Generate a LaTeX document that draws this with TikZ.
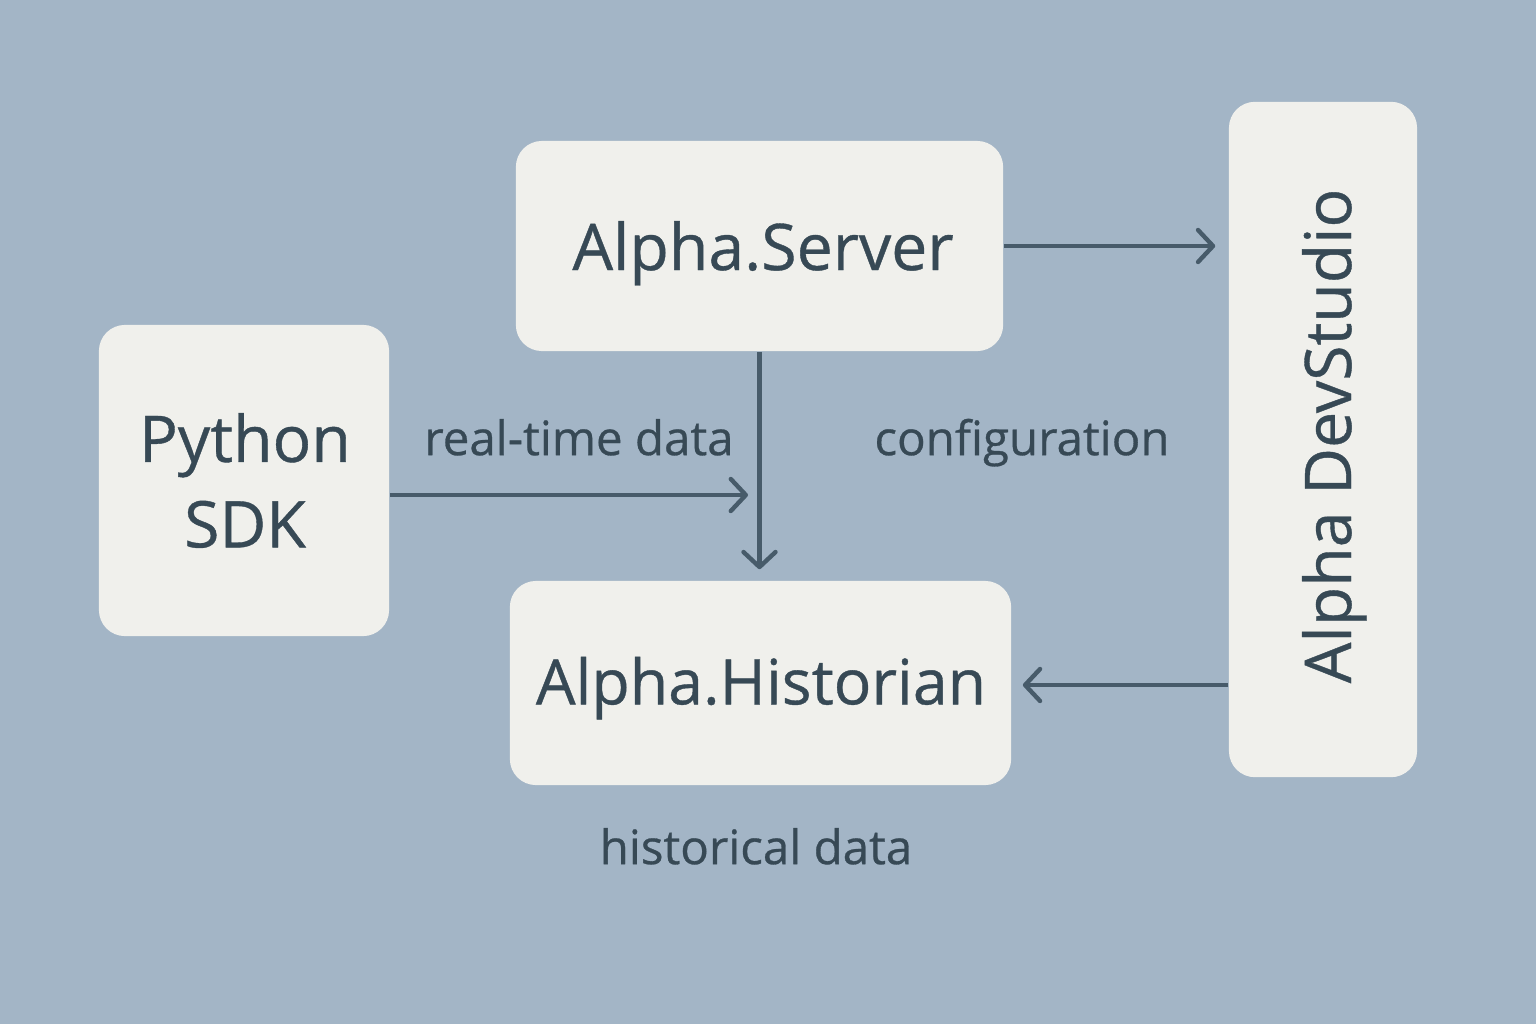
\documentclass[tikz,border=0pt]{standalone}
\usepackage{fontspec}
\setmainfont{Open Sans}[FakeBold=0.6]
\usetikzlibrary{arrows.meta}
\definecolor{bg}{HTML}{A3B5C6}
\definecolor{boxfill}{HTML}{F0F0EC}
\definecolor{txt}{HTML}{374955}
\definecolor{arr}{HTML}{475B6A}
\tikzset{
  box/.style={draw=none, fill=boxfill, rounded corners=0.26cm, inner sep=0pt},
  bigfont/.style={text=txt, inner sep=0pt, font=\fontsize{18.3}{24.3}\selectfont},
  big/.style={bigfont, text height=13.1pt, text depth=0pt},
  lbl/.style={text=txt, inner sep=0pt, font=\fontsize{13.5}{16}\selectfont, text height=10.3pt, text depth=0pt},
  conn/.style={draw=arr, line width=1.25pt, -{Straight Barb[length=0.15cm, width=0.32cm, line width=1.25pt, round]}},
}
\begin{document}
\begin{tikzpicture}[x=0.01cm, y=-0.01cm]
\fill[bg] (0,0) rectangle (1536,1024);
\useasboundingbox (0,0) rectangle (1536,1024);
\node[box, minimum width=4.87cm, minimum height=2.10cm] (server) at (759.5,246) {};
\node[big] (servertxt) at (763,247) {Alpha.Server};
\node[box, minimum width=2.90cm, minimum height=3.11cm] (sdk) at (244,480.5) {};
\node[bigfont, align=center] (sdktxt) at (245,480.5) {Python\\SDK};
\node[box, minimum width=5.01cm, minimum height=2.04cm] (hist) at (760.5,683) {};
\node[big, font=\fontsize{17.8}{24}\selectfont, text height=12.7pt] (histtxt) at (761,682) {Alpha.Historian};
\node[box, minimum width=1.88cm, minimum height=6.75cm] (dev) at (1323,439.5) {};
\node[big, rotate=90] (devtxt) at (1328,436) {Alpha DevStudio};
\node[lbl] (lrt) at (579,437) {real-time data};
\node[lbl] (lcfg) at (1022,437) {configuration};
\node[lbl] (lhist) at (756,846) {historical data};
\coordinate (rtend) at (748,495);
\draw[conn, shorten >=0.13cm] (server.east) -- (dev.west |- server.east);
\draw[conn, shorten >=0.11cm] (server.south) -- (hist.north -| server.south);
\draw[conn] (sdk.east |- rtend) -- (rtend);
\draw[conn, shorten >=0.11cm] (dev.west |- 0,685) -- (hist.east |- 0,685);
\end{tikzpicture}
\end{document}
